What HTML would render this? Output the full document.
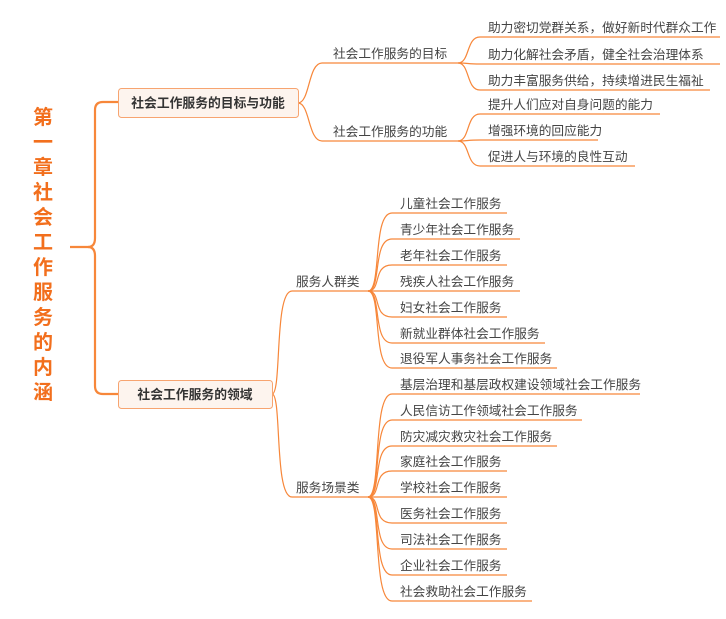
<!DOCTYPE html>
<html><head><meta charset="utf-8"><style>
html,body{margin:0;padding:0;background:#fff;}
svg{display:block;}
text{font-family:"Liberation Sans","Noto Sans CJK SC",sans-serif;}
</style></head><body>
<svg width="726" height="619" viewBox="0 0 726 619" xmlns="http://www.w3.org/2000/svg">
<g fill="none" stroke="#f7873a" stroke-width="1.2">
<path d="M70 247 L88 247 Q95 247 95 238 L95 110 Q95 102 103 102 L118 102" stroke-width="2.2"/>
<path d="M88 247 Q95 247 95 256 L95 386 Q95 394 103 394 L118 394" stroke-width="2.2"/>
<path d="M298 103 C310 103 308 63 322 63 L458 63"/>
<path d="M298 103 C310 103 308 141 322 141 L458 141"/>
<path d="M458 63 C470 63 466 37 480 37 L720 37"/>
<path d="M458 63 C470 63 466 64 480 64 L720 64"/>
<path d="M458 63 C470 63 466 90 480 90 L710 90"/>
<path d="M458 141 C470 141 466 114 480 114 L660 114"/>
<path d="M458 141 C470 141 466 140 480 140 L598 140"/>
<path d="M458 141 C470 141 466 166 480 166 L635 166"/>
<path d="M272 394 C282 394 274 291 292 291 L368 291"/>
<path d="M272 394 C282 394 274 497 292 497 L368 497"/>
<path d="M368 291 C382 291 372 213 392 213 L507 213"/>
<path d="M368 291 C382 291 372 239 392 239 L520 239"/>
<path d="M368 291 C382 291 372 265 392 265 L507 265"/>
<path d="M368 291 C382 291 372 291 392 291 L520 291"/>
<path d="M368 291 C382 291 372 317 392 317 L507 317"/>
<path d="M368 291 C382 291 372 343 392 343 L545 343"/>
<path d="M368 291 C382 291 372 368 392 368 L557 368"/>
<path d="M368 497 C382 497 372 394 392 394 L640 394"/>
<path d="M368 497 C382 497 372 420 392 420 L582 420"/>
<path d="M368 497 C382 497 372 446 392 446 L557 446"/>
<path d="M368 497 C382 497 372 471 392 471 L507 471"/>
<path d="M368 497 C382 497 372 497 392 497 L507 497"/>
<path d="M368 497 C382 497 372 523 392 523 L507 523"/>
<path d="M368 497 C382 497 372 549 392 549 L507 549"/>
<path d="M368 497 C382 497 372 575 392 575 L507 575"/>
<path d="M368 497 C382 497 372 601 392 601 L532 601"/>
</g>
<rect x="118.5" y="88.5" width="180" height="29" rx="3" fill="#fdf4ee" stroke="#f7a470"/>
<text x="208" y="107.5" font-size="12.8" font-weight="bold" fill="#333" text-anchor="middle">社会工作服务的目标与功能</text>
<rect x="118.5" y="380.5" width="154" height="28" rx="3" fill="#fdf4ee" stroke="#f7a470"/>
<text x="195" y="399" font-size="12.8" font-weight="bold" fill="#333" text-anchor="middle">社会工作服务的领域</text>
<g font-size="20" font-weight="bold" fill="#f26f1d" text-anchor="middle">
<text x="43" y="124">第</text><text x="43" y="149">一</text><text x="43" y="174">章</text><text x="43" y="199">社</text><text x="43" y="224">会</text><text x="43" y="249">工</text><text x="43" y="274">作</text><text x="43" y="299">服</text><text x="43" y="324">务</text><text x="43" y="349">的</text><text x="43" y="374">内</text><text x="43" y="399">涵</text>
</g>
<g font-size="12.7" fill="#444">
<text x="333" y="58">社会工作服务的目标</text>
<text x="333" y="136">社会工作服务的功能</text>
<text x="488" y="32">助力密切党群关系，做好新时代群众工作</text>
<text x="488" y="59">助力化解社会矛盾，健全社会治理体系</text>
<text x="488" y="85">助力丰富服务供给，持续增进民生福祉</text>
<text x="488" y="109">提升人们应对自身问题的能力</text>
<text x="488" y="135">增强环境的回应能力</text>
<text x="488" y="161">促进人与环境的良性互动</text>
<text x="296" y="286">服务人群类</text>
<text x="296" y="492">服务场景类</text>
<text x="400" y="208">儿童社会工作服务</text>
<text x="400" y="234">青少年社会工作服务</text>
<text x="400" y="260">老年社会工作服务</text>
<text x="400" y="286">残疾人社会工作服务</text>
<text x="400" y="312">妇女社会工作服务</text>
<text x="400" y="338">新就业群体社会工作服务</text>
<text x="400" y="363">退役军人事务社会工作服务</text>
<text x="400" y="389">基层治理和基层政权建设领域社会工作服务</text>
<text x="400" y="415">人民信访工作领域社会工作服务</text>
<text x="400" y="441">防灾减灾救灾社会工作服务</text>
<text x="400" y="466">家庭社会工作服务</text>
<text x="400" y="492">学校社会工作服务</text>
<text x="400" y="518">医务社会工作服务</text>
<text x="400" y="544">司法社会工作服务</text>
<text x="400" y="570">企业社会工作服务</text>
<text x="400" y="596">社会救助社会工作服务</text>
</g>
</svg>
</body></html>
